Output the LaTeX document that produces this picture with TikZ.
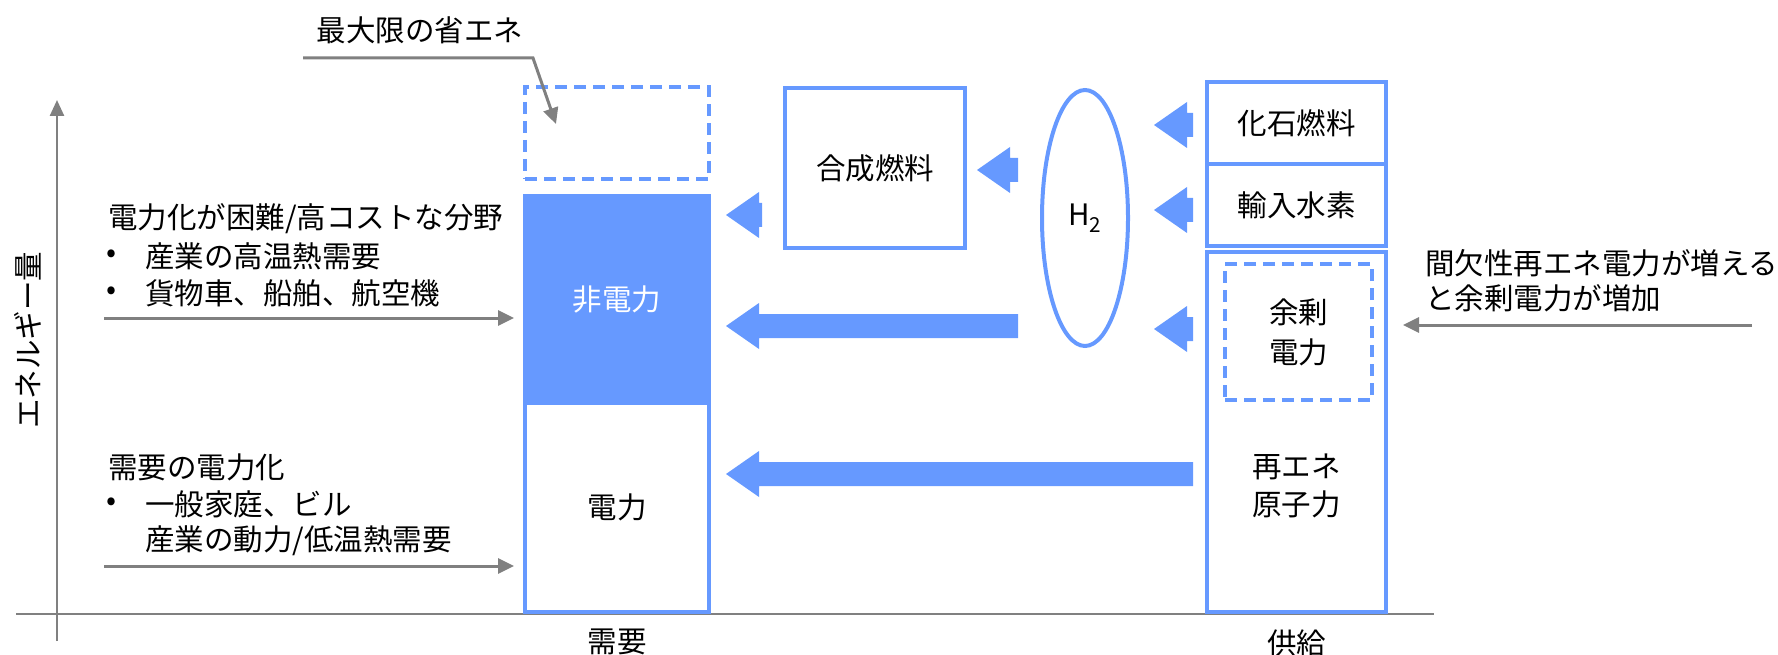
\documentclass[tikz,border=0pt]{standalone}
\usepackage{fontspec}
\setmainfont{Noto Sans CJK JP}
\usetikzlibrary{arrows.meta,shapes.geometric}
\definecolor{bl}{HTML}{6699FF}
\definecolor{gr}{HTML}{808080}
\newcommand\blarrow[3]{%
  \fill[bl] (#1,#2) -- (#1+33,#2-23) -- (#1+33,#2-12) -- (#3,#2-12) -- (#3,#2+12) -- (#1+33,#2+12) -- (#1+33,#2+23) -- cycle;}
\begin{document}
\begin{tikzpicture}[x=1pt,y=-1pt,
  txt/.style={font=\fontsize{29.5}{34}\selectfont, inner sep=0pt, outer sep=0pt},
  bbox/.style={draw=bl, line width=4pt, inner sep=0pt, outer sep=0pt, font=\fontsize{29.5}{40}\selectfont, align=center},
  dbox/.style={bbox, dash pattern=on 12pt off 7pt},
  garrow/.style={draw=gr, line width=3pt, -{Triangle[length=16pt,width=15pt]}},
  axis/.style={draw=gr, line width=2.5pt},
  ]
\useasboundingbox (0,0) rectangle (1778,655);
% axes
\coordinate (yb) at (57,641);
\coordinate (yt) at (57,100);
\draw[axis, -{Triangle[length=16pt,width=14pt]}] (yb) -- (yt);
\coordinate (xl) at (16,614);
\coordinate (xr) at (1434,614);
\draw[axis] (xl) -- (xr);
\node[txt, rotate=90] (ylab) at (28,340) {エネルギー量};
% demand column
\node[dbox, minimum width=184pt, minimum height=92pt] (eff) at (617,133) {};
\node[bbox, fill=bl, text=white, minimum width=184pt, minimum height=207pt] (nonelec) at (617,299.5) {非電力};
\node[bbox, minimum width=184pt, minimum height=209pt] (elec) at (617,507.5) {電力};
\node[txt] (demand) at (617,642) {需要};
% synthetic fuel and H2
\node[bbox, minimum width=180pt, minimum height=160pt] (syn) at (875,168) {合成燃料};
\node[draw=bl, line width=4pt, ellipse, minimum width=86pt, minimum height=256pt, inner sep=0pt, font=\fontsize{29.5}{34}\selectfont] (h2) at (1085,218) {H\textsubscript{2}};
% supply column
\node[bbox, minimum width=179pt, minimum height=82pt] (fossil) at (1296.5,123) {化石燃料};
\node[bbox, minimum width=179pt, minimum height=82pt] (import) at (1296.5,205) {輸入水素};
\node[bbox, minimum width=179pt, minimum height=360pt] (renew) at (1296.5,432) {};
\node[dbox, minimum width=147pt, minimum height=136pt] (surplus) at (1298.5,332) {余剰\\電力};
\node[txt, align=center, font=\fontsize{29.5}{38}\selectfont] (ren) at (1296.5,486) {再エネ\\原子力};
\node[txt] (supply) at (1296.5,643) {供給};
% block arrows
\blarrow{726}{215}{762}
\blarrow{977}{170}{1018}
\blarrow{726}{326}{1018}
\blarrow{726}{474}{1193}
\blarrow{1154}{125}{1193}
\blarrow{1154}{210}{1193}
\blarrow{1154}{329}{1193}
% top annotation
\node[txt] (efflab) at (420,30) {最大限の省エネ};
\coordinate (e1) at (303,58);
\coordinate (e2) at (533,58);
\coordinate (e3) at (556,124);
\draw[garrow] (e1) -- (e2) -- (e3);
% left annotations
\node[txt, anchor=west] (l1) at (108,219) {電力化が困難/高コストな分野};
\node[txt, anchor=west] (l1b1) at (106,256) {•};
\node[txt, anchor=west] (l1t1) at (145,256) {産業の高温熱需要};
\node[txt, anchor=west] (l1b2) at (106,293) {•};
\node[txt, anchor=west] (l1t2) at (145,293) {貨物車、船舶、航空機};
\coordinate (a1s) at (104,318);
\coordinate (a1e) at (514,318);
\draw[garrow] (a1s) -- (a1e);
\node[txt, anchor=west] (l2) at (108,467) {需要の電力化};
\node[txt, anchor=west] (l2b1) at (106,504) {•};
\node[txt, anchor=west] (l2t1) at (145,504) {一般家庭、ビル};
\node[txt, anchor=west] (l2t2) at (145,541) {産業の動力/低温熱需要};
\coordinate (a2s) at (104,566);
\coordinate (a2e) at (514,566);
\draw[garrow] (a2s) -- (a2e);
% right annotation
\node[txt, anchor=west] (r1) at (1425,263) {間欠性再エネ電力が増える};
\node[txt, anchor=west] (r2) at (1425,298) {と余剰電力が増加};
\coordinate (a3s) at (1752,325);
\coordinate (a3e) at (1403,325);
\draw[garrow] (a3s) -- (a3e);
\end{tikzpicture}
\end{document}
